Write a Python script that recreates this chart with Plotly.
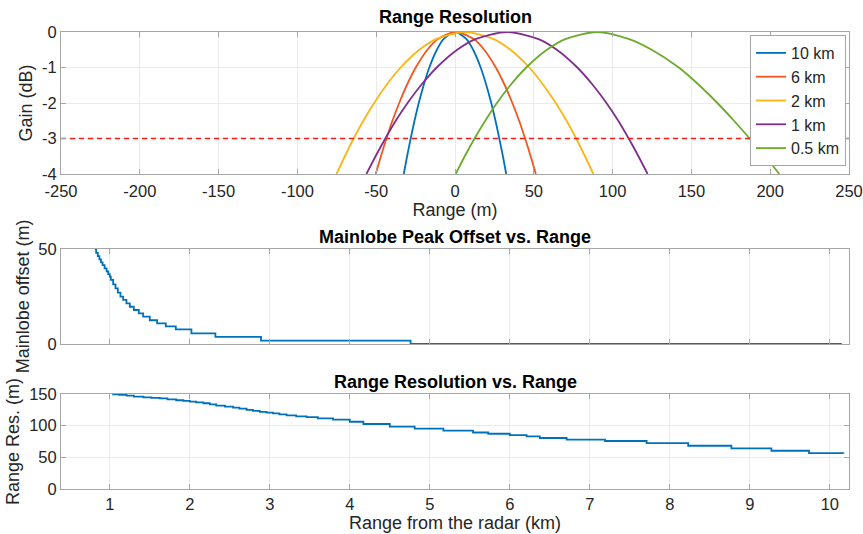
import plotly.graph_objects as go

W, H = 863, 534

# ---------------- data: top panel (gain vs range offset) ----------------
gain_levels = [-4, -3.5, -3, -2.5, -2, -1.5, -1, -0.5, -0.2, 0, -0.2, -0.5, -1, -1.5, -2, -2.5, -3, -3.5, -4]

x_10km = [-32.5, -30.4, -28.1, -25.7, -23.0, -19.9, -16.3, -11.5, -7.3, 0, 7.3, 11.5, 16.3, 19.9, 23.0, 25.7, 28.1, 30.4, 32.5]
x_6km = [-50.3, -47.0, -43.5, -39.7, -35.4, -30.6, -24.9, -17.5, -10.9, 0.5, 11.9, 18.5, 25.9, 31.6, 36.4, 40.7, 44.5, 48.0, 51.3]
x_2km = [-75.2, -69.9, -64.3, -58.2, -51.3, -43.6, -34.5, -22.6, -12.0, 6.3, 24.6, 35.2, 47.1, 56.2, 63.9, 70.8, 76.9, 82.5, 87.8]
x_1km = [-56.2, -50.4, -44.2, -37.6, -30.1, -21.6, -11.6, 1.4, 13.0, 33.0, 53.0, 64.6, 77.6, 87.6, 96.1, 103.6, 110.2, 116.4, 122.2]
x_05km = [0.4, 6.2, 12.4, 19.2, 26.6, 35.1, 45.2, 58.3, 70.0, 90.0, 110.5, 124.8, 142.0, 155.0, 166.5, 177.0, 187.0, 196.8, 205.8]

series_names = ["10 km", "6 km", "2 km", "1 km", "0.5 km"]
series_x = [x_10km, x_6km, x_2km, x_1km, x_05km]
colors = ["#0072BD", "#F2571F", "#FDB515", "#7E2F8E", "#6BAA2C"]

threshold_x = [-250, 250]
threshold_y = [-3, -3]

top_ticks = [-250, -200, -150, -100, -50, 0, 50, 100, 150, 200, 250]
top_tick_text = ["-250", "-200", "-150", "-100", "-50", "0", "50", "100", "150", "200", "250"]
gain_ticks = [-4, -3, -2, -1, 0]
gain_tick_text = ["-4", "-3", "-2", "-1", "0"]

# ---------------- data: middle panel (mainlobe offset) ----------------
off_km = [0.8125, 0.83, 0.85, 0.87, 0.89, 0.91, 0.935, 0.96, 0.98, 1.0, 1.0125, 1.042, 1.071, 1.10,
          1.133, 1.167, 1.208, 1.25, 1.30, 1.3625, 1.417, 1.5, 1.592, 1.70, 1.825, 2.02, 2.32, 2.89,
          4.76, 10.15]
off_m = [50, 48, 46.2, 44.5, 43, 41.5, 39.8, 38.2, 36.8, 35.5, 33.7, 31.4, 29.3, 27.0,
         24.9, 23.2, 21.4, 19.6, 17.9, 16.1, 14.4, 12.5, 10.9, 9.3, 7.7, 5.6, 3.7, 1.75,
         0, 0]

# ---------------- data: bottom panel (range resolution) ----------------
res_km = [1.03, 1.12, 1.21, 1.30, 1.42, 1.52, 1.625, 1.72, 1.83, 1.92, 2.0, 2.08, 2.17, 2.25, 2.33,
          2.44, 2.54, 2.62, 2.71, 2.79, 2.875, 2.96, 3.04, 3.12, 3.21, 3.33, 3.46, 3.6, 3.79, 4.0,
          4.17, 4.5, 4.81, 5.17, 5.54, 5.73, 6.0, 6.21, 6.375, 6.71, 7.19, 7.71, 8.23, 8.77, 9.27,
          9.74, 10.17]
res_m = [149.5, 148.5, 147.4, 146, 144.8, 144, 143.2, 141.5, 140.1, 139, 138, 136.7, 135.4, 133.5,
         131.8, 130.2, 128.6, 126.8, 125, 123.5, 121.9, 120.6, 119.3, 117.7, 116.1, 114.8, 113.5,
         111.5, 109.5, 106.2, 102.6, 98.5, 95.4, 92.3, 89.2, 87.2, 85.1, 83.1, 80.5, 78, 75.8,
         72.4, 68.3, 64.2, 60.4, 56.5, 56.0]

km_ticks = [1, 2, 3, 4, 5, 6, 7, 8, 9, 10]

# ---------------- layout helpers ----------------
FONT = "Liberation Sans, Arial, Helvetica, sans-serif"
TXT = "#262626"
AX = "#a6a6a6"
GRID = "#ebebeb"

def px_x(p):
    return p / W

def px_y(p):
    return 1 - p / H

x_dom = [px_x(61), px_x(849)]
top_dom = [px_y(174), px_y(32)]
mid_dom = [px_y(344), px_y(249)]
bot_dom = [px_y(489), px_y(394)]

fig = go.Figure()

for name, xs, c in zip(series_names, series_x, colors):
    fig.add_trace(go.Scatter(x=xs, y=gain_levels, mode="lines", name=name,
                             line=dict(color=c, width=1.8, shape="spline", smoothing=0.8),
                             xaxis="x", yaxis="y"))
fig.add_trace(go.Scatter(x=threshold_x, y=threshold_y, mode="lines", showlegend=False,
                         line=dict(color="#FF1A1A", width=1.6, dash="5px,4px"),
                         xaxis="x", yaxis="y"))

fig.add_trace(go.Scatter(x=off_km, y=off_m, mode="lines", showlegend=False,
                         line=dict(color="#0072BD", width=1.8, shape="hv"),
                         xaxis="x2", yaxis="y2"))
fig.add_trace(go.Scatter(x=res_km, y=res_m, mode="lines", showlegend=False,
                         line=dict(color="#0072BD", width=1.8, shape="hv"),
                         xaxis="x3", yaxis="y3"))

def axis_style(**kw):
    d = dict(showline=True, linecolor=AX, linewidth=1, mirror="ticks",
             ticks="inside", ticklen=5, tickcolor=AX, showgrid=True, gridcolor=GRID,
             gridwidth=1, zeroline=False, automargin=False,
             tickfont=dict(family=FONT, size=16.5, color=TXT),
             title_font=dict(family=FONT, size=18, color=TXT))
    d.update(kw)
    return d

fig.update_layout(
    width=W, height=H,
    margin=dict(l=0, r=0, t=0, b=0),
    paper_bgcolor="white", plot_bgcolor="white",
    font=dict(family=FONT, color=TXT),
    xaxis=axis_style(domain=x_dom, range=[-250, 250], tickvals=top_ticks, ticktext=top_tick_text,
                     ticklabelstandoff=2, anchor="y", title=dict(text="Range (m)", standoff=0)),
    yaxis=axis_style(domain=top_dom, range=[-4, 0], tickvals=gain_ticks, ticktext=gain_tick_text,
                     anchor="x", title=dict(text="Gain (dB)", standoff=4)),
    xaxis2=axis_style(domain=x_dom, range=[0.39, 10.24], tickvals=km_ticks, showticklabels=False, anchor="y2"),
    yaxis2=axis_style(domain=mid_dom, range=[0, 50], tickvals=[0, 50], anchor="x2",
                      title=dict(text="Mainlobe offset (m)", standoff=4)),
    xaxis3=axis_style(domain=x_dom, range=[0.39, 10.24], tickvals=km_ticks, anchor="y3",
                      title=dict(text="Range from the radar (km)", standoff=0)),
    yaxis3=axis_style(domain=bot_dom, range=[0, 150], tickvals=[0, 50, 100, 150], anchor="x3",
                      title=dict(text="Range Res. (m)", standoff=4)),
    legend=dict(x=px_x(846), y=px_y(35), xanchor="right", yanchor="top",
                bgcolor="white", bordercolor=AX, borderwidth=1,
                font=dict(family=FONT, size=16, color=TXT),
                itemwidth=30, tracegroupgap=0),
    showlegend=True,
)

titles = [("Range Resolution", 17), ("Mainlobe Peak Offset vs. Range", 237), ("Range Resolution vs. Range", 382)]
for t, yp in titles:
    fig.add_annotation(text="<b>" + t + "</b>", x=(x_dom[0] + x_dom[1]) / 2, y=px_y(yp),
                       xref="paper", yref="paper", showarrow=False, xanchor="center", yanchor="middle",
                       font=dict(family=FONT, size=18, color="#000000"))

fig.write_html("out.html")
